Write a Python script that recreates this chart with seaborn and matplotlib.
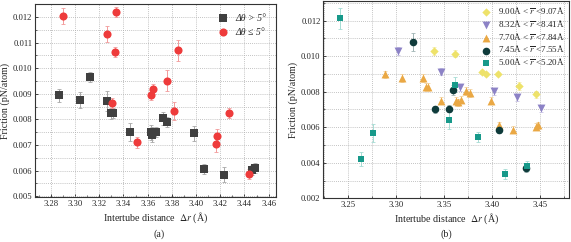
import matplotlib
matplotlib.use("Agg")
import matplotlib.pyplot as plt
import seaborn as sns
import pandas as pd
from matplotlib.ticker import MultipleLocator, FormatStrFormatter

# ---------------- Panel (a) data ----------------
a_gt_x = [3.2866, 3.3043, 3.3126, 3.3264, 3.3297, 3.3317, 3.3455, 3.3629, 3.3640, 3.3670,
          3.3725, 3.3764, 3.3985, 3.4068, 3.4231, 3.4460, 3.4490]
a_gt_y = [0.00894, 0.00875, 0.00966, 0.00872, 0.00823, 0.00824, 0.00750, 0.00749, 0.00740, 0.00752,
          0.00805, 0.00789, 0.00746, 0.00606, 0.00584, 0.00602, 0.00611]
a_gt_e = [0.00025, 0.0003, 0.0002, 0.0004, 0.0002, 0.0002, 0.00035, 0.0003, 0.0003, 0.0002,
          0.00025, 0.0002, 0.0003, 0.0002, 0.0003, 0.0002, 0.0002]

a_le_x = [3.2899, 3.3264, 3.3339, 3.3328, 3.3306, 3.3510, 3.3626, 3.3643, 3.3764, 3.3819,
          3.3855, 3.4162, 3.4173, 3.4270, 3.4435]
a_le_y = [0.01204, 0.01134, 0.01220, 0.01064, 0.00863, 0.00710, 0.00896, 0.00918, 0.00951, 0.00833,
          0.01069, 0.00704, 0.00737, 0.00824, 0.00588]
a_le_e = [0.0003, 0.0003, 0.0002, 0.0002, 0.0002, 0.0002, 0.0002, 0.0002, 0.0004, 0.00035,
          0.0004, 0.0003, 0.00025, 0.0002, 0.0002]

a_labels = ["\u0394\u03b8 > 5\u00b0", "\u0394\u03b8 \u2264 5\u00b0"]

# ---------------- Panel (b) data ----------------
b_r9_x = [3.3398, 3.3614, 3.3899, 3.3937, 3.4059, 3.4279, 3.4456]
b_r9_y = [0.01029, 0.01014, 0.00912, 0.00901, 0.00901, 0.00832, 0.00786]
b_r9_e = [0.0002, 0.0002, 0.0001, 0.0001, 0.0001, 0.0002, 0.0002]

b_r83_x = [3.3014, 3.3464, 3.3666, 3.4021, 3.4259, 3.4513]
b_r83_y = [0.01029, 0.00912, 0.00825, 0.00802, 0.00769, 0.00708]
b_r83_e = [0.0002, 0.0002, 0.0002, 0.0002, 0.0002, 0.0002]

b_r77_x = [3.2886, 3.3057, 3.3277, 3.3311, 3.3332, 3.3464, 3.3624, 3.3648, 3.3676, 3.3729,
           3.3770, 3.3986, 3.4070, 3.4222, 3.4456, 3.4483]
b_r77_y = [0.00897, 0.00877, 0.00877, 0.00828, 0.00828, 0.00750, 0.00750, 0.00741, 0.00754, 0.00804,
           0.00793, 0.00750, 0.00611, 0.00587, 0.00602, 0.00611]
b_r77_e = [0.0002] * 16

b_r74_x = [3.3172, 3.3590, 3.3408, 3.3548, 3.4075, 3.4352]
b_r74_y = [0.01081, 0.00810, 0.00702, 0.00704, 0.00586, 0.00369]
b_r74_e = [0.0005, 0.0003, 0.0002, 0.0002, 0.0002, 0.0002]

b_r5_x = [3.2413, 3.2630, 3.2755, 3.3548, 3.3611, 3.3857, 3.4132, 3.4362]
b_r5_y = [0.01212, 0.00420, 0.00570, 0.00639, 0.00840, 0.00546, 0.00338, 0.00383]
b_r5_e = [0.0006, 0.0004, 0.0005, 0.0005, 0.0004, 0.0003, 0.0003, 0.0003]

b_labels = [r"9.00Å < $\overline{r}$ <9.07Å", r"8.32Å < $\overline{r}$ <8.41Å",
            r"7.70Å < $\overline{r}$ <7.84Å", r"7.45Å < $\overline{r}$ <7.55Å",
            r"5.00Å < $\overline{r}$ <5.20Å"]

# ---------------- Styling ----------------
sns.set_style("ticks")
plt.rcParams["font.family"] = ["Liberation Serif", "DejaVu Serif"]
plt.rcParams["mathtext.fontset"] = "stix"
plt.rcParams["axes.linewidth"] = 0.8
plt.rcParams["xtick.direction"] = "in"
plt.rcParams["ytick.direction"] = "in"

fig = plt.figure(figsize=(5.71, 2.42), dpi=100)
axa = fig.add_axes([0.0613, 0.186, 0.422, 0.797])
axb = fig.add_axes([0.5662, 0.180, 0.431, 0.816])

TICK_FS = 6.2
LAB_FS = 7.2


def series(ax, xs, ys, es, color, ecolor, marker, label, s=22, z=3):
    ax.errorbar(xs, ys, yerr=es, fmt="none", ecolor=ecolor, elinewidth=0.7,
                capsize=1.4, capthick=0.6, zorder=z - 1)
    df = pd.DataFrame({"x": xs, "y": ys})
    sns.scatterplot(data=df, x="x", y="y", ax=ax, marker=marker, color=color,
                    s=s, linewidth=0, label=label, zorder=z, legend=False)


# Panel (a)
series(axa, a_gt_x, a_gt_y, a_gt_e, "#404040", "#a8a8a8", "s", a_labels[0], s=28)
series(axa, a_le_x, a_le_y, a_le_e, "#ee3b3b", "#f29a9a", "o", a_labels[1], s=34)

axa.set_xlim(3.267, 3.466)
axa.set_ylim(0.00497, 0.0125)
axa.xaxis.set_major_locator(MultipleLocator(0.02))
axa.xaxis.set_minor_locator(MultipleLocator(0.01))
axa.yaxis.set_major_locator(MultipleLocator(0.001))
axa.yaxis.set_minor_locator(MultipleLocator(0.0005))
axa.xaxis.set_major_formatter(FormatStrFormatter("%.2f"))
axa.yaxis.set_major_formatter(FormatStrFormatter("%.3f"))
axa.grid(True, which="major", axis="x", color="#b0b0b0", linestyle=(0, (1, 1.5)), linewidth=0.6)
axa.grid(True, which="both", axis="y", color="#b0b0b0", linestyle=(0, (1, 1.5)), linewidth=0.6)
axa.set_axisbelow(True)

# Panel (b)
series(axb, b_r9_x, b_r9_y, b_r9_e, "#eee26a", "#f5eeb0", "D", b_labels[0], s=18)
series(axb, b_r83_x, b_r83_y, b_r83_e, "#8c82c6", "#c8c2e4", "v", b_labels[1], s=32)
series(axb, b_r77_x, b_r77_y, b_r77_e, "#eaa844", "#f3d3a0", "^", b_labels[2], s=32)
series(axb, b_r74_x, b_r74_y, b_r74_e, "#0f3b3b", "#a0b4b4", "o", b_labels[3], s=30)
series(axb, b_r5_x, b_r5_y, b_r5_e, "#17998a", "#a6dcd4", "s", b_labels[4], s=24)

axb.set_xlim(3.2239, 3.4807)
axb.set_ylim(0.002, 0.0131)
axb.xaxis.set_major_locator(MultipleLocator(0.05))
axb.xaxis.set_minor_locator(MultipleLocator(0.025))
axb.yaxis.set_major_locator(MultipleLocator(0.002))
axb.yaxis.set_minor_locator(MultipleLocator(0.001))
axb.xaxis.set_major_formatter(FormatStrFormatter("%.2f"))
axb.yaxis.set_major_formatter(FormatStrFormatter("%.3f"))
axb.grid(True, which="both", color="#b0b0b0", linestyle=(0, (1, 1.5)), linewidth=0.6)
axb.set_axisbelow(True)

xlab = "Intertube distance  $\\mathit{\\Delta r}$ (Å)"
for ax in (axa, axb):
    ax.tick_params(which="major", length=2.5, width=0.6, labelsize=TICK_FS, pad=2,
                   top=False, right=False)
    ax.tick_params(which="minor", length=1.5, width=0.5, top=False, right=False)
    ax.set_xlabel(xlab, fontsize=LAB_FS, labelpad=2)
    ax.set_ylabel("Friction (pN/atom)", fontsize=LAB_FS, labelpad=2)
    for sp in ax.spines.values():
        sp.set_color("#333333")

axa.legend(loc="upper right", frameon=False, prop={"style": "italic", "size": 7.0},
           handletextpad=0.3, labelspacing=0.5, borderaxespad=0.6, markerscale=1.0)
axb.legend(loc="upper right", frameon=False, prop={"size": 6.5},
           handletextpad=0.3, labelspacing=0.12, borderaxespad=0.2, borderpad=0.3,
           markerscale=1.0)

fig.text(0.2795, 0.033, "(a)", ha="center", va="center", fontsize=LAB_FS)
fig.text(0.782, 0.033, "(b)", ha="center", va="center", fontsize=LAB_FS)

fig.savefig("out.png", dpi=100)
